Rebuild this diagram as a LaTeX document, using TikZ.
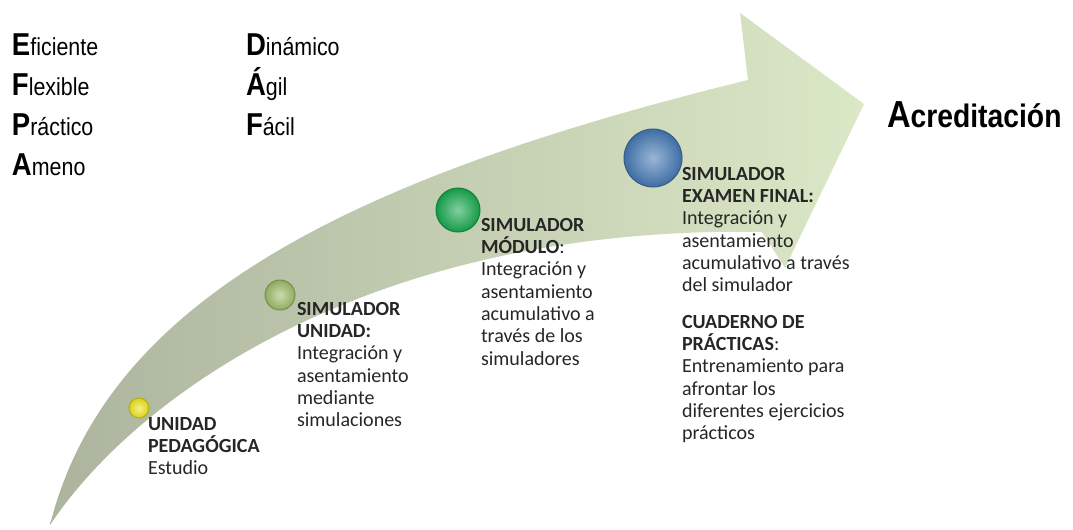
\documentclass[tikz,border=0pt]{standalone}
\usepackage{fontspec}
\setmainfont{Carlito}
\newfontfamily\arialfont{Liberation Sans}
\usetikzlibrary{shadings}

\definecolor{caab29b}{RGB}{172,180,158}
\definecolor{cdbe8c6}{RGB}{219,232,198}
\definecolor{c262626}{RGB}{38,38,38}
\definecolor{cf0e628}{RGB}{240,232,30}
\definecolor{ca8c070}{RGB}{160,190,105}
\definecolor{c1fae55}{RGB}{25,170,80}
\definecolor{c4a7db8}{RGB}{70,122,182}
\def \globalscale {1.000000}
\newcommand{\bigini}[2]{{\fontsize{18}{18}\selectfont\bfseries #1}#2}

\begin{document}
\begin{tikzpicture}[y=1cm, x=1cm, yscale=\globalscale,xscale=\globalscale, every node/.append style={scale=\globalscale}, inner sep=0pt, outer sep=0pt,
  stagetext/.style={text=c262626, align=left, anchor=north west, font=\fontsize{11.4}{12.7}\selectfont},
  wordtext/.style={text=black, anchor=base west, xscale=0.87, font=\arialfont\fontsize{14}{14}\selectfont},
  stageball/.style={circle, draw=#1!75!black, line width=0.02cm, inner color=#1!55!white, outer color=#1!90!black}]
  \useasboundingbox (0,0) rectangle (21.46,10.58);

  % curved arrow
  \path[left color=caab29b,right color=cdbe8c6] (1.0, 0.08).. controls (2.1, 4.48) and (6.8, 6.98) .. (14.96, 8.98) -- (14.8, 10.32) -- (17.28, 8.5) -- (15.7, 5.22) -- (15.24, 5.94).. controls (7.6, 6.08) and (2.8, 2.78) .. (1.0, 0.08) -- cycle;



  \node[stageball=cf0e628,minimum size=0.4cm] (ballpedagogica) at (2.78, 2.42){};



  \node[stageball=ca8c070,minimum size=0.6cm] (ballunidad) at (5.6, 4.68){};



  \node[stageball=c1fae55,minimum size=0.88cm] (ballmodulo) at (9.16, 6.38){};



  \node[stageball=c4a7db8,minimum size=1.16cm] (ballexamen) at (13.06, 7.42){};



  \node[stagetext] (textpedagogica) at (2.96, 2.24){\textbf{UNIDAD}\\\textbf{PEDAGÓGICA}\\Estudio};



  \node[stagetext] (textunidad) at (5.94, 4.54){\textbf{SIMULADOR}\\\textbf{UNIDAD:}\\Integración y\\asentamiento\\mediante\\simulaciones};



  \node[stagetext] (textmodulo) at (9.62, 6.22){\textbf{SIMULADOR}\\\textbf{MÓDULO}:\\Integración y\\asentamiento\\acumulativo a\\través de los\\simuladores};



  \node[stagetext] (textexamen) at (13.64, 7.24){\textbf{SIMULADOR}\\\textbf{EXAMEN FINAL:}\\Integración y\\asentamiento\\acumulativo a través\\del simulador};



  \node[stagetext] (textcuaderno) at (13.64, 4.28){\textbf{CUADERNO DE}\\\textbf{PRÁCTICAS}:\\Entrenamiento para\\afrontar los\\diferentes ejercicios\\prácticos};



  \node[wordtext] (texteficiente) at (0.24, 9.48){\bigini{E}{ficiente}};



  \node[wordtext] (textflexible) at (0.24, 8.68){\bigini{F}{lexible}};



  \node[wordtext] (textpractico) at (0.24, 7.88){\bigini{P}{ráctico}};



  \node[wordtext] (textameno) at (0.24, 7.08){\bigini{A}{meno}};



  \node[wordtext] (textdinamico) at (4.92, 9.48){\bigini{D}{inámico}};



  \node[wordtext] (textagil) at (4.92, 8.68){\bigini{Á}{gil}};



  \node[wordtext] (textfacil) at (4.92, 7.88){\bigini{F}{ácil}};



  \node[wordtext,font=\arialfont\bfseries\fontsize{18.5}{18.5}\selectfont] (textacreditacion) at (17.74, 8.04){{\fontsize{21.4}{21.4}\selectfont A}creditación};




\end{tikzpicture}
\end{document}
